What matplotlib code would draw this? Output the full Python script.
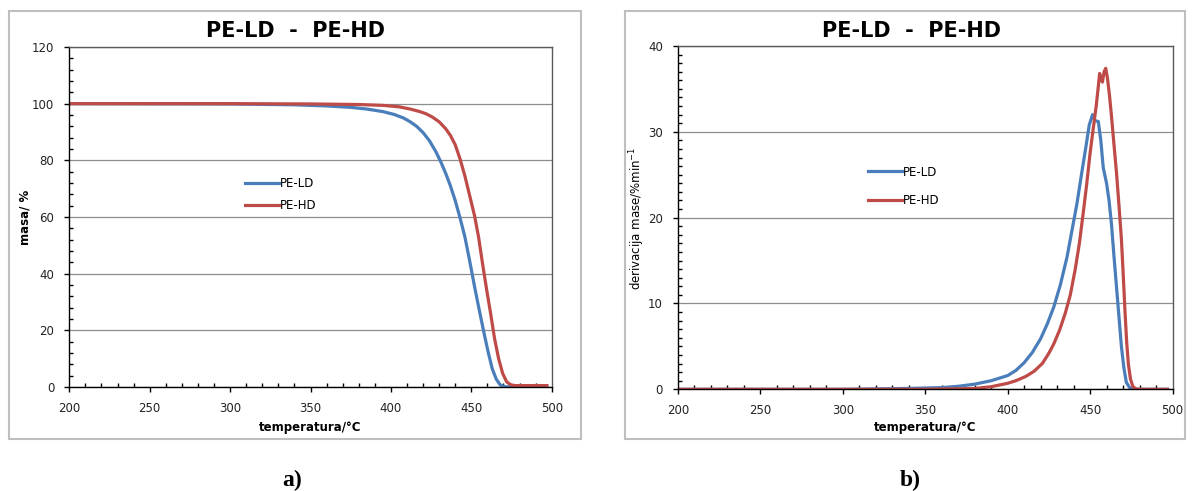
import numpy as np
import matplotlib
matplotlib.use('Agg')
import matplotlib.pyplot as plt
from matplotlib.patches import Rectangle
from matplotlib.ticker import MultipleLocator

plt.rcParams['font.family'] = ['DejaVu Sans']

# TG curves (mass %) read from panel a)
tg_ld_t = [200, 300, 340, 360, 375, 385, 395, 402, 408, 412, 416, 420, 424, 428, 431,
           434, 437, 440, 443, 446, 449, 452, 455, 458, 460.5, 463, 465.5, 468, 471, 475, 497]
tg_ld_m = [100, 99.9, 99.6, 99.2, 98.7, 98.1, 97.2, 96.2, 94.9, 93.6, 92.0, 89.8, 86.9, 83.0, 79.5,
           75.5, 71.0, 65.8, 59.7, 53.0, 44.5, 35.5, 27.0, 18.8, 12.3, 6.5, 2.8, 0.7, 0.1, 0, 0]

tg_hd_t = [200, 300, 350, 380, 395, 405, 412, 418, 422, 426, 430, 434, 437, 440, 443,
           446, 449, 452, 454.5, 457, 459.5, 462, 464.5, 467, 469.5, 472, 474.5, 477, 497]
tg_hd_m = [100, 100, 99.9, 99.7, 99.4, 98.9, 98.1, 97.2, 96.4, 95.2, 93.6, 91.2, 88.8, 85.5, 80.5,
           74.5, 67.5, 60.5, 53.0, 43.5, 34.5, 26.0, 17.0, 10.0, 4.8, 1.8, 0.8, 0.5, 0.5]

# DTG curves (%/min) read from panel b)
dtg_ld_t = [200, 300, 340, 360, 370, 380, 390, 400, 405, 410, 415, 420, 424, 428, 432, 436,
            439, 442, 445, 447.5, 449.5, 451.5, 453, 455, 456.5, 458, 460, 461.5, 463, 464.5,
            466, 467.5, 469, 470.5, 472, 474, 476, 497]
dtg_ld_v = [0, 0, 0.1, 0.2, 0.35, 0.6, 1.0, 1.6, 2.2, 3.1, 4.3, 5.9, 7.6, 9.6, 12.2, 15.4,
            18.5, 21.6, 25.3, 28.3, 30.8, 32.0, 31.3, 31.2, 29.0, 25.8, 24.0, 22.0, 19.2, 15.5,
            12.0, 8.5, 5.0, 2.5, 0.8, 0.2, 0, 0]

dtg_hd_t = [200, 350, 380, 390, 400, 405, 411, 416, 421, 425, 428, 431.5, 435, 438, 441,
            443.5, 446, 448, 450, 452, 453.7, 455, 455.8, 456.6, 457.5, 458.5, 459.5, 460.5,
            461.8, 463, 464.5, 466, 467.5, 469, 470.2, 471.2, 472.2, 473.2, 474.5, 476, 478,
            480, 497]
dtg_hd_v = [0, 0, 0.1, 0.3, 0.7, 1.0, 1.5, 2.1, 3.0, 4.2, 5.3, 6.9, 8.9, 11.0, 14.0,
            17.0, 20.8, 24.0, 27.5, 30.5, 33.0, 35.3, 36.8, 36.2, 35.8, 37.0, 37.4, 36.3,
            34.2, 31.8, 28.5, 25.3, 21.5, 17.5, 13.0, 9.0, 5.5, 3.0, 1.2, 0.3, 0.05,
            0, 0]

blue = '#4A7EBB'
red = '#BE4B48'

W, H = 1192, 491
fig = plt.figure(figsize=(W / 100, H / 100), dpi=100)


def fx(px):
    return px / W


def fy(py):
    return 1 - py / H


def style_axes(ax, ymax, ymajor, yminor):
    ax.set_xlim(200, 500)
    ax.set_ylim(0, ymax)
    ax.xaxis.set_major_locator(MultipleLocator(50))
    ax.xaxis.set_minor_locator(MultipleLocator(10))
    ax.yaxis.set_major_locator(MultipleLocator(ymajor))
    ax.yaxis.set_minor_locator(MultipleLocator(yminor))
    ax.tick_params(which='major', direction='out', length=3.8, width=1, labelsize=8.5,
                   pad=7, colors='black', labelcolor='#222222')
    ax.tick_params(which='minor', direction='in', length=2.6, width=1)
    ax.grid(axis='y', which='major', color='#8c8c8c', lw=0.9)
    ax.set_axisbelow(True)
    for s in ('left', 'bottom'):
        ax.spines[s].set_color('black')
        ax.spines[s].set_linewidth(1)
    for s in ('top', 'right'):
        ax.spines[s].set_color('#595959')
        ax.spines[s].set_linewidth(1)


# panel a)
ax1 = fig.add_axes([fx(69.3), fy(387), 482.4 / W, 340 / H])
style_axes(ax1, 120, 20, 4)
ax1.plot(tg_ld_t, tg_ld_m, color=blue, lw=2.3, label='PE-LD')
ax1.plot(tg_hd_t, tg_hd_m, color=red, lw=2.3, label='PE-HD')
ax1.legend(loc='center left', bbox_to_anchor=(0.364, 0.567), frameon=False, fontsize=8.5,
           handlelength=2.9, handletextpad=0.1, labelspacing=0.75, borderpad=0, borderaxespad=0)

# panel b)
ax2 = fig.add_axes([fx(678), fy(389.3), 494.5 / W, 343.3 / H])
style_axes(ax2, 40, 10, 1)
ax2.plot(dtg_ld_t, dtg_ld_v, color=blue, lw=2.3, label='PE-LD')
ax2.plot(dtg_hd_t, dtg_hd_v, color=red, lw=2.3, label='PE-HD')
ax2.legend(loc='center left', bbox_to_anchor=(0.384, 0.5916), frameon=False, fontsize=8.5,
           handlelength=2.9, handletextpad=0.1, labelspacing=1.3, borderpad=0, borderaxespad=0)

# chart borders
for x0, x1 in [(9, 581), (625, 1185)]:
    fig.patches.append(Rectangle((fx(x0), fy(439)), (x1 - x0) / W, (439 - 11) / H,
                                 transform=fig.transFigure, fill=False,
                                 edgecolor='#BFBFBF', lw=1.5))

# titles and labels
for cx in (295, 911):
    fig.text(fx(cx), fy(31), 'PE-LD  -  PE-HD', ha='center', va='center',
             fontsize=15, fontweight='bold')
fig.text(fx(310), fy(428), 'temperatura/°C', ha='center', va='center', fontsize=8.5, fontweight='bold')
fig.text(fx(925), fy(428), 'temperatura/°C', ha='center', va='center', fontsize=8.5, fontweight='bold')
fig.text(fx(25), fy(217), 'masa/ %', ha='center', va='center', rotation=90,
         fontsize=8.5, fontweight='bold')
fig.text(fx(637), fy(218), 'derivacija mase/%min$^{-1}$', ha='center', va='center', rotation=90,
         fontsize=8.5)

fig.text(fx(292), fy(480), 'a)', ha='center', va='center', fontsize=17, fontweight='bold',
         family='Liberation Serif')
fig.text(fx(910), fy(480), 'b)', ha='center', va='center', fontsize=17, fontweight='bold',
         family='Liberation Serif')

fig.savefig('out.png', dpi=100, facecolor='white')
